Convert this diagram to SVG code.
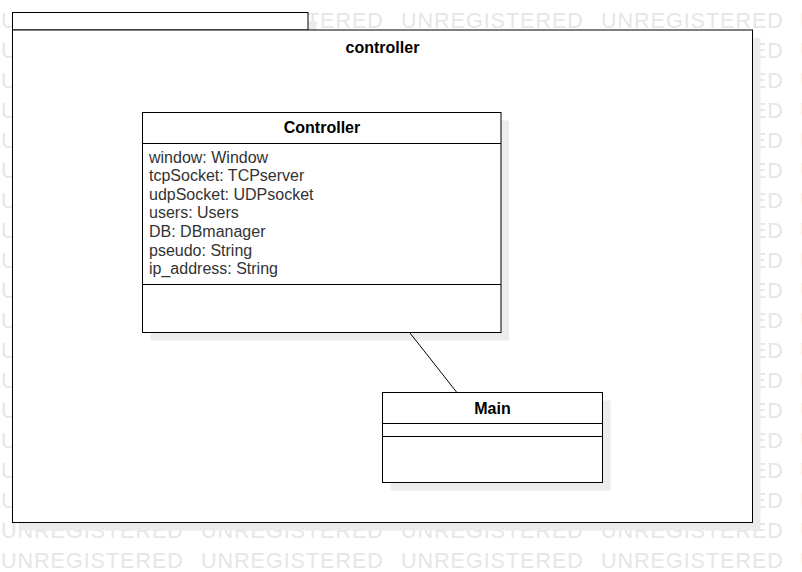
<svg xmlns="http://www.w3.org/2000/svg" width="802" height="572" viewBox="0 0 802 572">
  <style>
    .wm { font-family: "Liberation Sans", Arial, sans-serif; font-size: 21.5px; fill: #e6e6e6; letter-spacing: 1px; }
    .shadow { fill: #ececec; stroke: none; }
    .box { fill: #ffffff; stroke: #000000; stroke-width: 1; }
    .sep { stroke: #000000; stroke-width: 1; fill: none; }
    .title { font-family: "Liberation Sans", Arial, sans-serif; font-size: 16px; font-weight: bold; fill: #000000; text-anchor: middle; }
    .attr { font-family: "Liberation Sans", Arial, sans-serif; font-size: 16px; fill: #333333; }
    .conn { stroke: #000000; stroke-width: 1; fill: none; }
  </style>

  <rect x="0" y="0" width="802" height="572" fill="#ffffff"/>

  <g id="watermark">
    <text class="wm" y="28"><tspan x="1">UNREGISTERED</tspan><tspan x="201">UNREGISTERED</tspan><tspan x="401">UNREGISTERED</tspan><tspan x="601">UNREGISTERED</tspan><tspan x="800">U</tspan></text>
    <text class="wm" y="58"><tspan x="1">UNREGISTERED</tspan><tspan x="201">UNREGISTERED</tspan><tspan x="401">UNREGISTERED</tspan><tspan x="601">UNREGISTERED</tspan><tspan x="800">U</tspan></text>
    <text class="wm" y="88"><tspan x="1">UNREGISTERED</tspan><tspan x="201">UNREGISTERED</tspan><tspan x="401">UNREGISTERED</tspan><tspan x="601">UNREGISTERED</tspan><tspan x="800">U</tspan></text>
    <text class="wm" y="118"><tspan x="1">UNREGISTERED</tspan><tspan x="201">UNREGISTERED</tspan><tspan x="401">UNREGISTERED</tspan><tspan x="601">UNREGISTERED</tspan><tspan x="800">U</tspan></text>
    <text class="wm" y="148"><tspan x="1">UNREGISTERED</tspan><tspan x="201">UNREGISTERED</tspan><tspan x="401">UNREGISTERED</tspan><tspan x="601">UNREGISTERED</tspan><tspan x="800">U</tspan></text>
    <text class="wm" y="178"><tspan x="1">UNREGISTERED</tspan><tspan x="201">UNREGISTERED</tspan><tspan x="401">UNREGISTERED</tspan><tspan x="601">UNREGISTERED</tspan><tspan x="800">U</tspan></text>
    <text class="wm" y="208"><tspan x="1">UNREGISTERED</tspan><tspan x="201">UNREGISTERED</tspan><tspan x="401">UNREGISTERED</tspan><tspan x="601">UNREGISTERED</tspan><tspan x="800">U</tspan></text>
    <text class="wm" y="238"><tspan x="1">UNREGISTERED</tspan><tspan x="201">UNREGISTERED</tspan><tspan x="401">UNREGISTERED</tspan><tspan x="601">UNREGISTERED</tspan><tspan x="800">U</tspan></text>
    <text class="wm" y="268"><tspan x="1">UNREGISTERED</tspan><tspan x="201">UNREGISTERED</tspan><tspan x="401">UNREGISTERED</tspan><tspan x="601">UNREGISTERED</tspan><tspan x="800">U</tspan></text>
    <text class="wm" y="298"><tspan x="1">UNREGISTERED</tspan><tspan x="201">UNREGISTERED</tspan><tspan x="401">UNREGISTERED</tspan><tspan x="601">UNREGISTERED</tspan><tspan x="800">U</tspan></text>
    <text class="wm" y="328"><tspan x="1">UNREGISTERED</tspan><tspan x="201">UNREGISTERED</tspan><tspan x="401">UNREGISTERED</tspan><tspan x="601">UNREGISTERED</tspan><tspan x="800">U</tspan></text>
    <text class="wm" y="358"><tspan x="1">UNREGISTERED</tspan><tspan x="201">UNREGISTERED</tspan><tspan x="401">UNREGISTERED</tspan><tspan x="601">UNREGISTERED</tspan><tspan x="800">U</tspan></text>
    <text class="wm" y="388"><tspan x="1">UNREGISTERED</tspan><tspan x="201">UNREGISTERED</tspan><tspan x="401">UNREGISTERED</tspan><tspan x="601">UNREGISTERED</tspan><tspan x="800">U</tspan></text>
    <text class="wm" y="418"><tspan x="1">UNREGISTERED</tspan><tspan x="201">UNREGISTERED</tspan><tspan x="401">UNREGISTERED</tspan><tspan x="601">UNREGISTERED</tspan><tspan x="800">U</tspan></text>
    <text class="wm" y="448"><tspan x="1">UNREGISTERED</tspan><tspan x="201">UNREGISTERED</tspan><tspan x="401">UNREGISTERED</tspan><tspan x="601">UNREGISTERED</tspan><tspan x="800">U</tspan></text>
    <text class="wm" y="478"><tspan x="1">UNREGISTERED</tspan><tspan x="201">UNREGISTERED</tspan><tspan x="401">UNREGISTERED</tspan><tspan x="601">UNREGISTERED</tspan><tspan x="800">U</tspan></text>
    <text class="wm" y="508"><tspan x="1">UNREGISTERED</tspan><tspan x="201">UNREGISTERED</tspan><tspan x="401">UNREGISTERED</tspan><tspan x="601">UNREGISTERED</tspan><tspan x="800">U</tspan></text>
    <text class="wm" y="538"><tspan x="1">UNREGISTERED</tspan><tspan x="201">UNREGISTERED</tspan><tspan x="401">UNREGISTERED</tspan><tspan x="601">UNREGISTERED</tspan><tspan x="800">U</tspan></text>
    <text class="wm" y="568"><tspan x="1">UNREGISTERED</tspan><tspan x="201">UNREGISTERED</tspan><tspan x="401">UNREGISTERED</tspan><tspan x="601">UNREGISTERED</tspan><tspan x="800">U</tspan></text>
  </g>

  <g id="package-controller">
    <rect class="shadow" x="20.5" y="21" width="296" height="17"/>
    <rect class="shadow" x="20.5" y="38" width="740" height="492.5"/>
    <rect class="box" x="12.5" y="12.5" width="295.5" height="17.5"/>
    <rect class="box" x="12.5" y="30" width="740" height="492.5"/>
    <text class="title" x="382.5" y="52.5">controller</text>
  </g>

  <g id="class-Controller">
    <rect class="shadow" x="150.5" y="120.5" width="358.5" height="220"/>
    <rect class="box" x="142.5" y="112.5" width="358.5" height="220"/>
    <line class="sep" x1="142.5" y1="143.5" x2="501" y2="143.5"/>
    <line class="sep" x1="142.5" y1="284.5" x2="501" y2="284.5"/>
    <text class="title" x="322" y="133">Controller</text>
    <text class="attr" x="149" y="162.7">window: Window</text>
    <text class="attr" x="149" y="181.3">tcpSocket: TCPserver</text>
    <text class="attr" x="149" y="199.8">udpSocket: UDPsocket</text>
    <text class="attr" x="149" y="218.4">users: Users</text>
    <text class="attr" x="149" y="236.9">DB: DBmanager</text>
    <text class="attr" x="149" y="255.5">pseudo: String</text>
    <text class="attr" x="149" y="274">ip_address: String</text>
  </g>

  <g id="class-Main">
    <rect class="shadow" x="390.5" y="400.5" width="220" height="90"/>
    <rect class="box" x="382.5" y="392.5" width="220" height="90"/>
    <line class="sep" x1="382.5" y1="423.5" x2="602.5" y2="423.5"/>
    <line class="sep" x1="382.5" y1="436.5" x2="602.5" y2="436.5"/>
    <text class="title" x="492.5" y="413.5">Main</text>
  </g>

  <g id="connectors">
    <line class="conn" x1="410" y1="333" x2="456.5" y2="392"/>
  </g>
</svg>
